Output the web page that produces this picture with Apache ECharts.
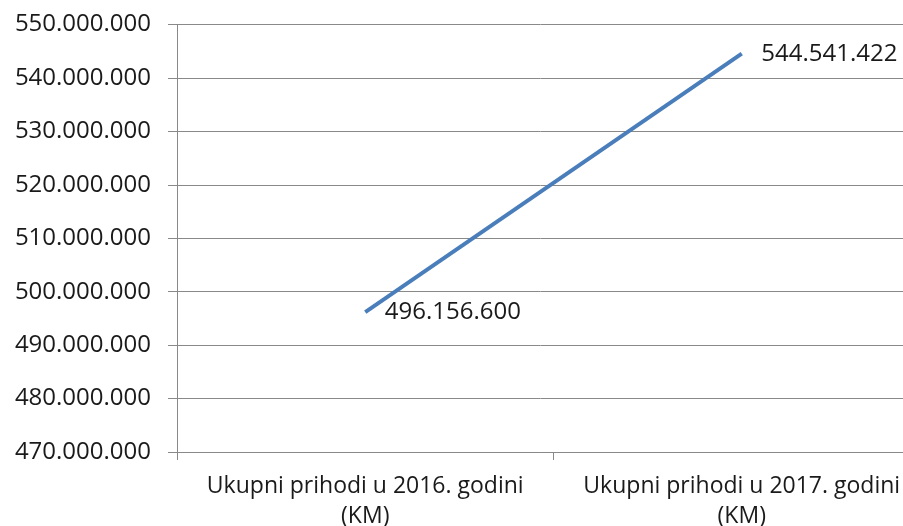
<!DOCTYPE html>
<html><head><meta charset="utf-8">
<script src="https://cdn.jsdelivr.net/npm/echarts@6/dist/echarts.min.js"></script>
<style>html,body{margin:0;padding:0;background:#fff}#c{width:903px;height:526px}</style>
</head><body><div id="c"></div>
<script>
var categories = ['Ukupni prihodi u 2016. godini\n(KM)', 'Ukupni prihodi u 2017. godini\n(KM)'];
var values = [496156600, 544541422];
var yMin = 470000000, yMax = 550000000, yStep = 10000000;

function fmt(v){ return String(Math.round(v)).replace(/\B(?=(\d{3})+(?!\d))/g, '.'); }

var chart = echarts.init(document.getElementById('c'));
chart.setOption({
  animation: false,
  grid: { left: 177, top: 24.5, width: 753, height: 427.5, containLabel: false, outerBoundsMode: 'none' },
  xAxis: {
    type: 'category', data: categories, boundaryGap: true,
    axisLine: { lineStyle: { color: '#898989', width: 1 } },
    axisTick: { show: true, length: 8, lineStyle: { color: '#898989' } },
    axisLabel: { color: '#1a1a1a', fontFamily: 'Open Sans', fontSize: 23, lineHeight: 30, margin: 19, interval: 0 }
  },
  yAxis: {
    type: 'value', min: yMin, max: yMax, interval: yStep,
    axisLine: { show: true, lineStyle: { color: '#898989', width: 1 } },
    axisTick: { show: true, length: 9, lineStyle: { color: '#898989' } },
    splitLine: { show: true, lineStyle: { color: '#898989', width: 1 } },
    axisLabel: { color: '#1a1a1a', fontFamily: 'Open Sans', fontSize: 24, margin: 26, formatter: fmt }
  },
  series: [{
    type: 'line', data: values, showSymbol: true, symbol: 'circle', symbolSize: 1,
    itemStyle: { color: 'rgba(74,126,187,0)' },
    lineStyle: { color: '#4a7ebb', width: 4 },
    label: { show: true, position: 'right', distance: 19, color: '#1a1a1a', fontFamily: 'Open Sans', fontSize: 24, formatter: function(p){ return fmt(p.value); } }
  }]
});
</script></body></html>
